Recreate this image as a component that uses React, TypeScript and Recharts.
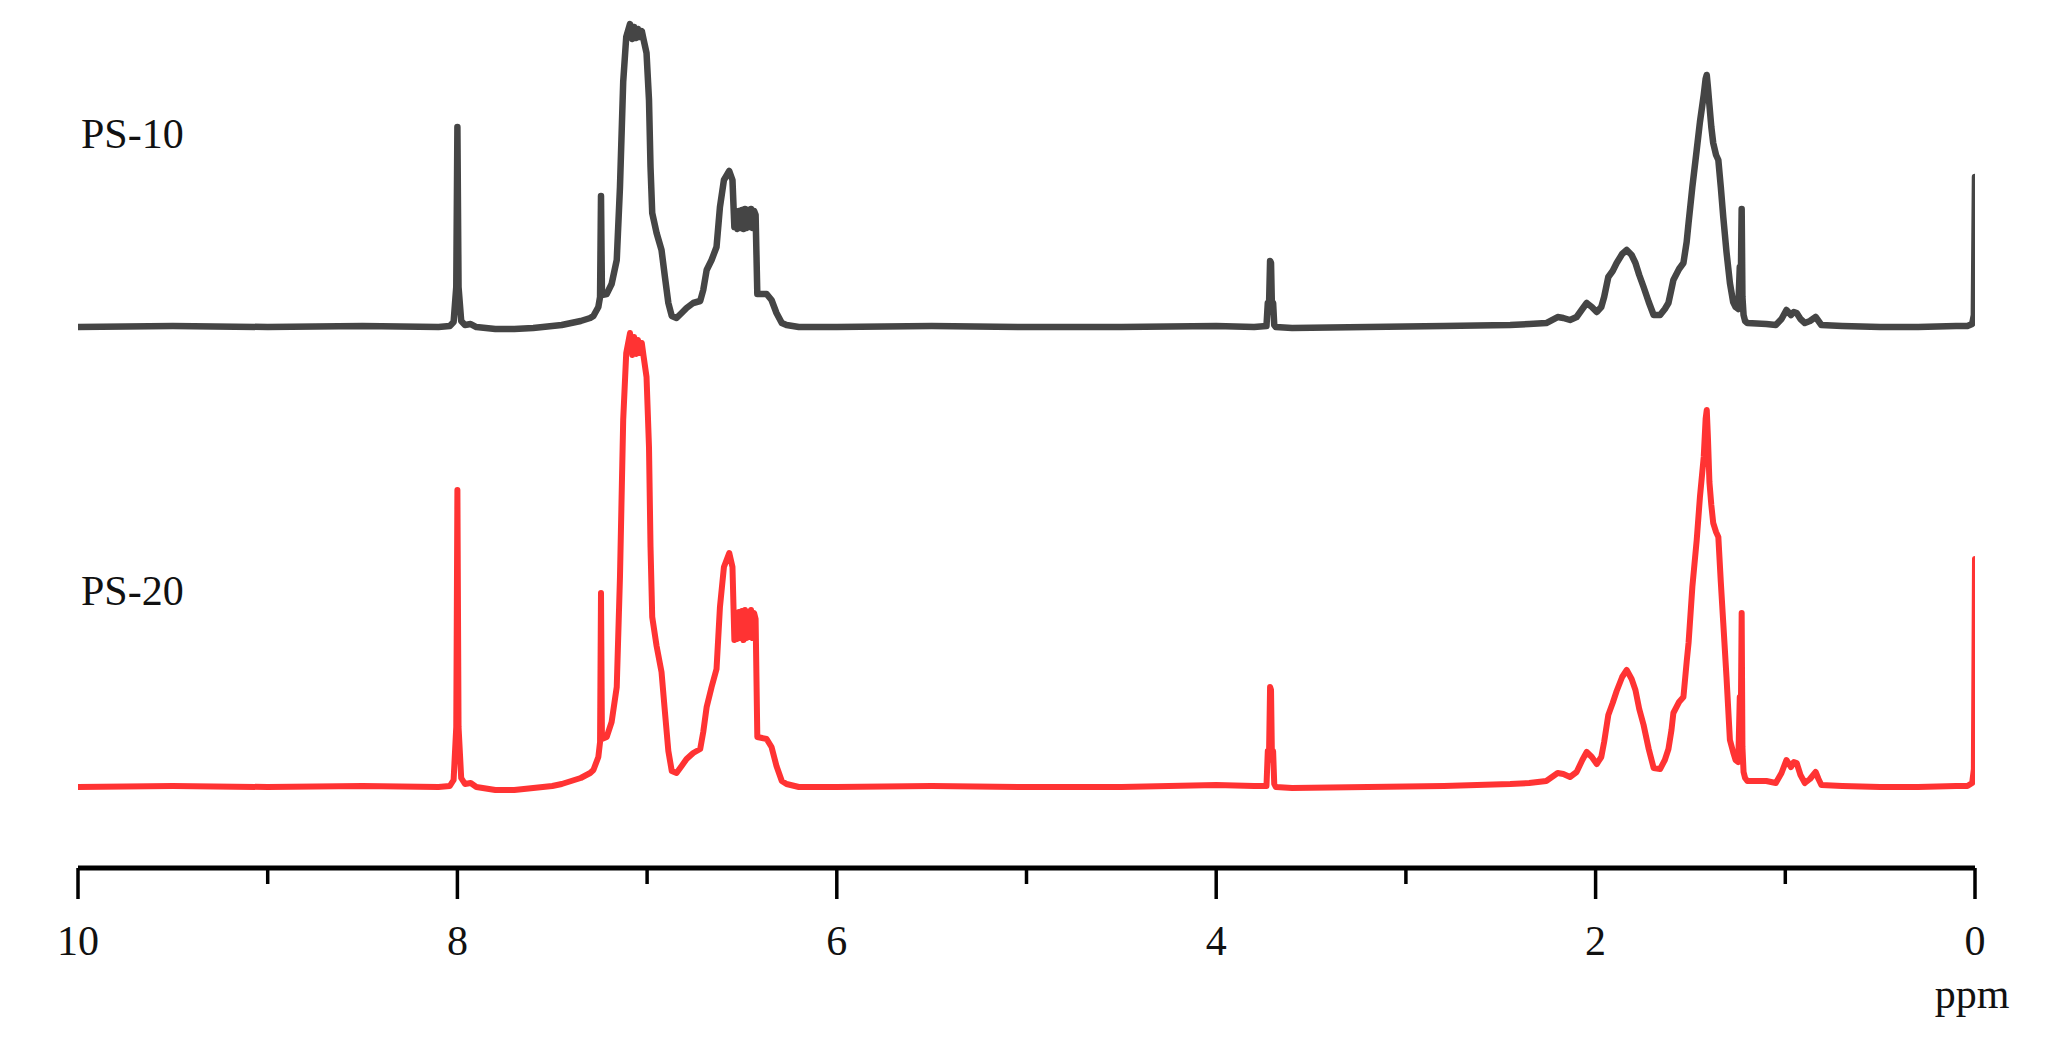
import React from 'react';
import { LineChart, Line, XAxis, YAxis } from 'recharts';

// ---- Data (chemical shift in ppm, intensity in arbitrary units) ----
// Region A: 10 -> 7.5 ppm (incl. 8.0 ppm singlet)
const PPM_A = [10, 9.5, 9.0, 8.5, 8.1, 8.04, 8.02, 8.006, 8.0, 7.994, 7.98, 7.96, 7.93, 7.9, 7.8, 7.7, 7.6, 7.5];
const PS10_A = [0, 1, 0, 1, 0, 1, 5, 40, 200, 40, 6, 2, 3, 0, -2, -2, -1, 1];
const PS20_A = [0, 1, 0, 1, 0, 1, 7, 60, 297, 60, 9, 3, 4, 0, -3, -3, -1, 1];

// Region B: 7.45 -> 6.87 ppm (CDCl3 line + main aromatic peak)
const PPM_B = [7.45, 7.4, 7.35, 7.3, 7.283, 7.257, 7.248, 7.243, 7.238, 7.213, 7.187, 7.16, 7.143, 7.126, 7.11, 7.09, 7.078, 7.068, 7.058, 7.048, 7.038, 7.028, 7.018, 7.003, 6.99, 6.982, 6.973, 6.95, 6.924, 6.906, 6.888, 6.87];
const PS10_B = [2, 4, 6, 9, 11, 20, 30, 131, 32, 33, 43, 67, 140, 245, 290, 303, 288, 300, 289, 298, 290, 296, 287, 274, 227, 160, 114, 94, 77, 50, 24, 11];
const PS20_B = [3, 6, 9, 14, 17, 30, 45, 194, 48, 50, 65, 100, 210, 367, 434, 454, 432, 450, 433, 447, 434, 444, 430, 410, 340, 240, 170, 141, 115, 75, 36, 16];

// Region C: 6.85 -> 6.2 ppm (ortho aromatic peak)
const PPM_C = [6.845, 6.818, 6.792, 6.757, 6.72, 6.704, 6.686, 6.66, 6.634, 6.616, 6.595, 6.567, 6.55, 6.54, 6.532, 6.524, 6.516, 6.508, 6.5, 6.492, 6.484, 6.476, 6.468, 6.46, 6.452, 6.444, 6.436, 6.428, 6.419, 6.37, 6.344, 6.318, 6.29, 6.265, 6.2];
const PS10_C = [9, 14, 19, 24, 26, 37, 57, 67, 80, 120, 147, 156, 147, 100, 115, 98, 116, 99, 117, 98, 118, 99, 117, 100, 118, 99, 116, 112, 33, 33, 27, 14, 4, 2, 0];
const PS20_C = [14, 21, 28, 34, 38, 55, 80, 100, 118, 180, 220, 234, 220, 147, 172, 148, 175, 149, 176, 147, 177, 149, 175, 150, 177, 149, 174, 168, 50, 48, 40, 21, 6, 3, 0];

// Region D: 6.0 -> 2.45 ppm (3.7 ppm doublet)
const PPM_D = [6.0, 5.5, 5.0, 4.5, 4.0, 3.8, 3.735, 3.728, 3.722, 3.716, 3.711, 3.706, 3.7, 3.694, 3.686, 3.6, 3.2, 2.8, 2.45];
const PS10_D = [0, 1, 0, 0, 1, 0, 1, 24, 18, 66, 64, 18, 24, 2, 0, -1, 0, 1, 2];
const PS20_D = [0, 1, 0, 0, 2, 1, 1, 36, 27, 100, 97, 27, 36, 3, 0, -1, 0, 1, 3];

// Region E: 2.35 -> 1.62 ppm (CH backbone)
const PPM_E = [2.35, 2.26, 2.2, 2.17, 2.135, 2.1, 2.07, 2.047, 2.02, 1.994, 1.97, 1.955, 1.933, 1.91, 1.889, 1.86, 1.836, 1.81, 1.79, 1.77, 1.747, 1.72, 1.694, 1.66, 1.635, 1.616];
const PS10_E = [3, 4, 10, 9, 7, 10, 18, 24, 20, 15, 20, 30, 50, 56, 64, 73, 77, 72, 64, 52, 40, 25, 12, 12, 18, 24];
const PS20_E = [4, 6, 14, 13, 10, 15, 27, 35, 30, 23, 30, 45, 72, 84, 96, 110, 117, 108, 97, 78, 62, 38, 19, 18, 27, 38];

// Region F: 1.6 -> 1.2 ppm (CH2 backbone + 1.23 line)
const PPM_F = [1.6, 1.59, 1.56, 1.537, 1.52, 1.51, 1.49, 1.467, 1.45, 1.43, 1.42, 1.414, 1.408, 1.4, 1.39, 1.38, 1.365, 1.353, 1.34, 1.327, 1.31, 1.292, 1.275, 1.262, 1.248, 1.24, 1.234, 1.23, 1.226, 1.22, 1.212, 1.2];
const PS10_F = [38, 47, 58, 64, 85, 104, 140, 177, 205, 232, 248, 252, 240, 222, 200, 184, 172, 167, 140, 110, 75, 44, 25, 20, 18, 60, 55, 118, 30, 12, 6, 4];
const PS20_F = [57, 74, 85, 90, 125, 144, 200, 247, 290, 330, 368, 377, 350, 305, 282, 264, 255, 250, 205, 164, 110, 47, 35, 27, 25, 90, 80, 174, 40, 15, 9, 6];

// Region G: 1.1 -> 0 ppm (end groups + TMS)
const PPM_G = [1.1, 1.05, 1.02, 0.994, 0.97, 0.955, 0.94, 0.92, 0.897, 0.87, 0.84, 0.825, 0.81, 0.7, 0.5, 0.3, 0.1, 0.04, 0.015, 0.006, 0];
const PS10_G = [3, 2, 8, 17, 12, 15, 14, 8, 4, 6, 10, 6, 2, 1, 0, 0, 1, 1, 3, 12, 150];
const PS20_G = [6, 4, 14, 27, 20, 25, 24, 12, 4, 8, 15, 8, 2, 1, 0, 0, 1, 1, 4, 18, 228];

const X_TICKS = [10, 9, 8, 7, 6, 5, 4, 3, 2, 1, 0];
const SERIES_NAMES = ['PS-10', 'PS-20'];
const AXIS_UNIT = 'ppm';

// ---- layout constants ----
const W = 2048;
const H = 1055;
const PLOT_BOTTOM = 868;
const PS10_OFFSET = 541;
const PS20_OFFSET = 81;
const FONT = "'Times New Roman', 'Liberation Serif', Times, serif";

const PPM_ALL = [...PPM_A, ...PPM_B, ...PPM_C, ...PPM_D, ...PPM_E, ...PPM_F, ...PPM_G];
const PS10_ALL = [...PS10_A, ...PS10_B, ...PS10_C, ...PS10_D, ...PS10_E, ...PS10_F, ...PS10_G];
const PS20_ALL = [...PS20_A, ...PS20_B, ...PS20_C, ...PS20_D, ...PS20_E, ...PS20_F, ...PS20_G];

const ps10Data = PPM_ALL.map((p, i) => ({ ppm: p, v: PS10_ALL[i] + PS10_OFFSET }));
const ps20Data = PPM_ALL.map((p, i) => ({ ppm: p, v: PS20_ALL[i] + PS20_OFFSET }));

const Tick = (props: any) => {
  const { x, y, payload } = props;
  const major = payload.value % 2 === 0;
  return (
    <g>
      <line x1={x} x2={x} y1={y} y2={y + (major ? 31 : 16)} stroke="#000" strokeWidth={3.5} />
      {major && (
        <text x={x} y={y + 87} textAnchor="middle" fontSize={42} fontFamily={FONT} fill="#111">
          {payload.value}
        </text>
      )}
    </g>
  );
};

export default function App() {
  return (
    <div style={{ position: 'absolute', left: 0, top: 0, width: W, height: H, background: '#fff' }}>
      <LineChart
        width={W}
        height={H}
        margin={{ top: 0, right: 73, bottom: 37, left: 78 }}
      >
        <XAxis
          type="number"
          dataKey="ppm"
          domain={[0, 10]}
          reversed
          ticks={X_TICKS}
          interval={0}
          allowDataOverflow
          tickLine={false}
          tickSize={0}
          tickMargin={0}
          axisLine={{ stroke: '#000', strokeWidth: 5 }}
          tick={<Tick />}
          height={150}
        />
        <YAxis type="number" hide width={0} domain={[0, PLOT_BOTTOM]} allowDataOverflow />
        <Line
          data={ps10Data}
          dataKey="v"
          type="linear"
          stroke="#454545"
          strokeWidth={6.5}
          strokeLinejoin="round"
          strokeLinecap="round"
          dot={false}
          activeDot={false}
          isAnimationActive={false}
        />
        <Line
          data={ps20Data}
          dataKey="v"
          type="linear"
          stroke="#ff3333"
          strokeWidth={6}
          strokeLinejoin="round"
          strokeLinecap="round"
          dot={false}
          activeDot={false}
          isAnimationActive={false}
        />
      </LineChart>
      <svg
        width={W}
        height={H}
        style={{ position: 'absolute', left: 0, top: 0, pointerEvents: 'none' }}
      >
        <text x={81} y={148} fontSize={42} fontFamily={FONT} fill="#111">{SERIES_NAMES[0]}</text>
        <text x={81} y={605} fontSize={42} fontFamily={FONT} fill="#111">{SERIES_NAMES[1]}</text>
        <text x={1972} y={1008} textAnchor="middle" fontSize={42} fontFamily={FONT} fill="#111">{AXIS_UNIT}</text>
      </svg>
    </div>
  );
}
